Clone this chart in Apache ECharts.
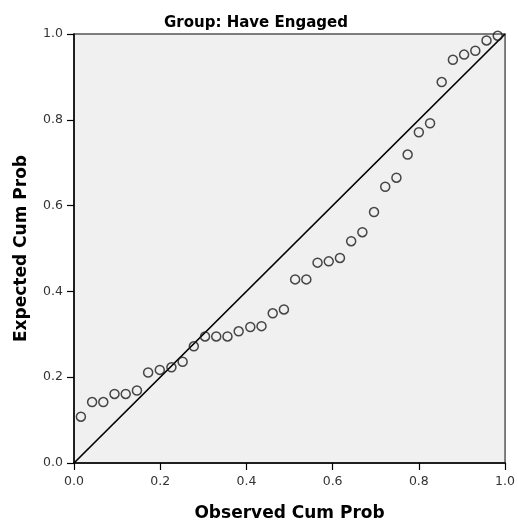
<!DOCTYPE html>
<html>
<head>
<meta charset="utf-8">
<script src="https://cdn.jsdelivr.net/npm/echarts@6/dist/echarts.min.js"></script>
<style>
html,body{margin:0;padding:0;background:#fff;}
#c{width:518px;height:527px;}
</style>
</head>
<body>
<div id="c"></div>
<script>
var titleText = "Group: Have Engaged";
var xAxisTitle = "Observed Cum Prob";
var yAxisTitle = "Expected Cum Prob";
var tickValues = [0, 0.2, 0.4, 0.6, 0.8, 1.0];
var observedCumProb = [0.016,0.042,0.068,0.094,0.120,0.146,0.172,0.199,0.226,0.252,0.278,0.304,0.330,0.356,0.382,0.409,0.435,0.461,0.487,0.513,0.539,0.565,0.591,0.617,0.643,0.669,0.696,0.722,0.748,0.774,0.800,0.826,0.853,0.879,0.905,0.931,0.957,0.983];
var expectedCumProb = [0.108,0.142,0.142,0.161,0.161,0.169,0.211,0.217,0.223,0.236,0.272,0.295,0.295,0.295,0.307,0.317,0.319,0.349,0.358,0.428,0.428,0.467,0.470,0.478,0.517,0.538,0.585,0.644,0.665,0.719,0.771,0.792,0.888,0.940,0.952,0.961,0.985,0.996];
var refLineX = [0, 1];
var refLineY = [0, 1];

var points = observedCumProb.map(function (x, i) { return [x, expectedCumProb[i]]; });
var refLine = refLineX.map(function (x, i) { return [x, refLineY[i]]; });

var chart = echarts.init(document.getElementById('c'), null, {renderer: 'canvas'});
var axisCommon = {
  type: 'value', min: 0, max: 1, interval: 0.2,
  axisLine: {show: true, onZero: false, lineStyle: {color: '#000', width: 1.5}},
  axisTick: {show: true, inside: false, length: 7, lineStyle: {color: '#000', width: 1.2}},
  splitLine: {show: false},
  nameLocation: 'middle',
  nameTextStyle: {fontFamily: 'DejaVu Sans', fontWeight: 'bold', fontSize: 17, color: '#000'}
};
chart.setOption({
  animation: false,
  backgroundColor: '#fff',
  title: {
    text: titleText, left: 159, top: 11,
    textStyle: {fontFamily: 'DejaVu Sans', fontWeight: 'bold', fontSize: 15, color: '#000'}
  },
  grid: {
    left: 74, top: 34, width: 433, height: 433,
    show: true, backgroundColor: '#f0f0f0', borderColor: '#555', borderWidth: 1.5
  },
  xAxis: Object.assign({}, axisCommon, {
    name: xAxisTitle, nameGap: 42,
    axisLabel: {margin: 12, fontFamily: 'DejaVu Sans', fontSize: 12.5, color: '#333',
      formatter: function (v) { return v.toFixed(1); }}
  }),
  yAxis: Object.assign({}, axisCommon, {
    name: yAxisTitle, nameGap: 44,
    axisLabel: {margin: 11, fontFamily: 'DejaVu Sans', fontSize: 12.5, color: '#333',
      formatter: function (v) { return v.toFixed(1); }}
  }),
  series: [
    {
      type: 'line', data: refLine, symbol: 'none', silent: true,
      lineStyle: {color: '#000', width: 1.7}, z: 2
    },
    {
      type: 'scatter', data: points, symbol: 'circle', symbolSize: 9, clip: false,
      itemStyle: {color: 'rgba(0,0,0,0)', borderColor: '#1a1a1a', borderWidth: 1.5}, z: 3
    }
  ]
});
</script>
</body>
</html>
